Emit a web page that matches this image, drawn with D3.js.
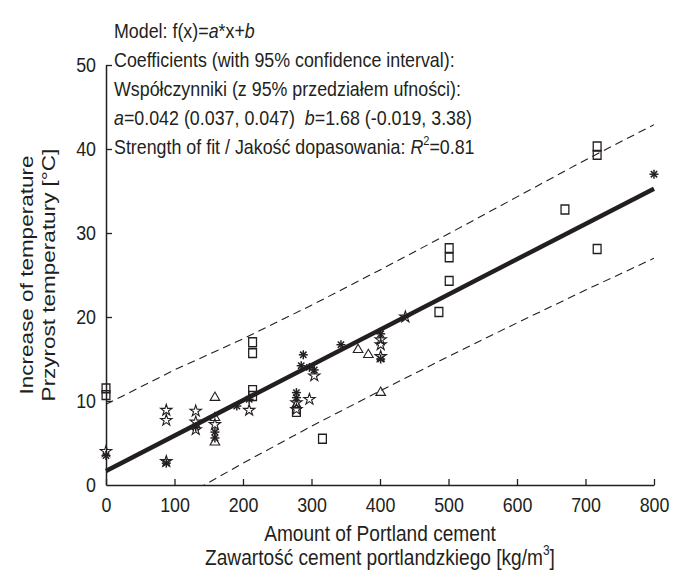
<!DOCTYPE html>
<html><head><meta charset="utf-8">
<script src="https://cdn.jsdelivr.net/npm/d3@7"></script>
<style>body{margin:0;background:#fff}svg{display:block}text{font-family:"Liberation Sans",Arial,Helvetica,sans-serif;fill:#231f20}</style>
</head><body><div id="chart"></div>
<script>
// Data
const squareX = [0, 0, 214, 214, 214, 214, 278, 316, 486, 501, 501, 501, 670, 717, 717, 717];
const squareY = [11.5, 10.7, 17.0, 15.7, 11.3, 10.6, 8.7, 5.5, 20.6, 24.3, 27.1, 28.2, 32.8, 40.3, 39.3, 28.1];
const starX = [0, 88, 88, 88, 131, 131, 131, 159, 209, 278, 278, 297, 304, 401, 401, 401, 437];
const starY = [4.0, 8.9, 7.7, 2.8, 8.8, 7.5, 6.6, 7.2, 8.9, 9.8, 9.0, 10.2, 13.0, 17.3, 16.7, 15.3, 20.0];
const asteriskX = [0, 88, 131, 159, 159, 191, 209, 278, 278, 285, 288, 297, 304, 343, 401, 401, 800];
const asteriskY = [3.5, 2.6, 6.9, 6.3, 5.6, 9.4, 10.2, 11.0, 10.4, 14.2, 15.5, 14.0, 13.7, 16.7, 18.0, 15.0, 37.0];
const triangleX = [159, 159, 159, 278, 368, 383, 401];
const triangleY = [10.4, 8.0, 5.1, 9.5, 16.1, 15.5, 11.0];
const fitX = [0, 800];
const fitY = [1.68, 35.28];
const boundX = [0, 100, 200, 300, 400, 500, 600, 700, 800];
const upperY = [9.6, 13.7, 17.4, 21.4, 25.6, 29.9, 34.3, 38.7, 42.9];
const lowerY = [-6.2, -2.0, 2.6, 7.0, 11.2, 15.3, 19.3, 23.2, 27.0];
const xTicks = [0, 100, 200, 300, 400, 500, 600, 700, 800];
const yTicks = [0, 10, 20, 30, 40, 50];

const W = 673, H = 574;
const L = 106, R = 654, T = 65, B = 485;
const SX = 0.85; // the figure's text is horizontally condensed
const svg = d3.select("#chart").append("svg").attr("width", W).attr("height", H);
const x = d3.scaleLinear().domain([0, 800]).range([L, R]);
const y = d3.scaleLinear().domain([0, 50]).range([B, T]);

svg.append("defs").append("clipPath").attr("id", "clip")
  .append("rect").attr("x", L).attr("y", T).attr("width", R - L).attr("height", B - T);

// axes with inward ticks
const xAxis = svg.append("g").attr("transform", `translate(0,${B})`)
  .call(d3.axisBottom(x).tickValues(xTicks).tickSizeInner(-6).tickSizeOuter(0).tickPadding(12));
const yAxis = svg.append("g").attr("transform", `translate(${L},0)`)
  .call(d3.axisLeft(y).tickValues(yTicks).tickSizeInner(-6).tickSizeOuter(0).tickPadding(10));
[xAxis, yAxis].forEach(g => {
  g.select(".domain").attr("stroke", "#231f20").attr("stroke-width", 1.5);
  g.selectAll(".tick line").attr("stroke", "#231f20").attr("stroke-width", 1.3);
  g.selectAll(".tick text").attr("font-size", 21).attr("fill", "#231f20")
    .style("font-family", '"Liberation Sans",Arial,sans-serif');
});
yAxis.selectAll(".tick text").attr("x", -10 / SX).attr("transform", `scale(${SX},1)`);
xAxis.selectAll(".tick text").attr("transform", `scale(${SX},1)`);
yAxis.selectAll(".tick").filter(d => d === 0).select("line").remove();

const plot = svg.append("g").attr("clip-path", "url(#clip)");
const line = d3.line().x(d => x(d[0])).y(d => y(d[1]));
plot.append("path").datum(boundX.map((v, i) => [v, upperY[i]])).attr("d", line)
  .attr("fill", "none").attr("stroke", "#231f20").attr("stroke-width", 1.1).attr("stroke-dasharray", "8,5");
plot.append("path").datum(boundX.map((v, i) => [v, lowerY[i]])).attr("d", line)
  .attr("fill", "none").attr("stroke", "#231f20").attr("stroke-width", 1.1).attr("stroke-dasharray", "8,5");

const pts = svg.append("g");
const sq = d3.symbol().type(d3.symbolSquare).size(72);
const st = d3.symbol().type(d3.symbolStar).size(40);
const tr = d3.symbol().type(d3.symbolTriangle).size(40);
pts.selectAll(".sq").data(squareX.map((v, i) => [v, squareY[i]])).join("path")
  .attr("d", sq).attr("transform", d => `translate(${x(d[0])},${y(d[1])}) scale(0.92,1.05)`)
  .attr("fill", "none").attr("stroke", "#231f20").attr("stroke-width", 1.4);
pts.selectAll(".st").data(starX.map((v, i) => [v, starY[i]])).join("path")
  .attr("d", st).attr("transform", d => `translate(${x(d[0])},${y(d[1])})`)
  .attr("fill", "none").attr("stroke", "#231f20").attr("stroke-width", 1.1);
pts.selectAll(".tr").data(triangleX.map((v, i) => [v, triangleY[i]])).join("path")
  .attr("d", tr).attr("transform", d => `translate(${x(d[0])},${y(d[1])})`)
  .attr("fill", "none").attr("stroke", "#231f20").attr("stroke-width", 1.1);
const ast = pts.selectAll(".as").data(asteriskX.map((v, i) => [v, asteriskY[i]])).join("g")
  .attr("transform", d => `translate(${x(d[0])},${y(d[1])})`);
[0, 45, 90, 135].forEach(a => {
  ast.append("line").attr("x1", 0).attr("y1", -4.5).attr("x2", 0).attr("y2", 4.5)
    .attr("transform", `rotate(${a})`).attr("stroke", "#231f20").attr("stroke-width", 1.5);
});

svg.append("path").datum(fitX.map((v, i) => [v, fitY[i]])).attr("d", line)
  .attr("fill", "none").attr("stroke", "#231f20").attr("stroke-width", 4.5);

// annotation text
const tx = 114, ts = 21;
const lines = [
  [["Model: f(x)=", 0], ["a", 1], ["*x+", 0], ["b", 1]],
  [["Coefficients (with 95% confidence interval):", 0]],
  [["Współczynniki (z 95% przedziałem ufności):", 0]],
  [["a", 1], ["=0.042 (0.037, 0.047)  ", 0], ["b", 1], ["=1.68 (-0.019, 3.38)", 0]],
  [["Strength of fit / Jakość dopasowania: ", 0], ["R", 1], ["2", 2], ["=0.81", 0]]
];
const baseY = [37.5, 66.5, 95.5, 124.5, 154];
lines.forEach((parts, i) => {
  const t = svg.append("g").attr("transform", `translate(${tx},${baseY[i]}) scale(${SX},1)`)
    .append("text").attr("x", 0).attr("y", 0).attr("font-size", ts).attr("xml:space", "preserve");
  parts.forEach((p, j) => {
    const s = t.append("tspan").text(p[0]);
    if (p[1] === 1) s.attr("font-style", "italic");
    if (p[1] === 2) s.attr("font-size", 13).attr("dy", -9);
    if (p[1] === 0 && j > 0 && parts[j - 1][1] === 2) s.attr("dy", 9);
  });
});

// axis titles
const tf = 22.5;
svg.append("g").attr("transform", `translate(${(L + R) / 2},541) scale(${SX},1)`)
  .append("text").attr("text-anchor", "middle").attr("font-size", tf)
  .text("Amount of Portland cement");
const t2 = svg.append("g").attr("transform", `translate(${(L + R) / 2},565) scale(${SX},1)`)
  .append("text").attr("text-anchor", "middle").attr("font-size", tf);
t2.append("tspan").text("Zawartość cement portlandzkiego [kg/m");
t2.append("tspan").text("3").attr("font-size", 14).attr("dy", -10);
t2.append("tspan").text("]").attr("dy", 10);
svg.append("g").attr("transform", `translate(33,${(T + B) / 2}) scale(${SX},1) rotate(-90)`)
  .append("text").attr("text-anchor", "middle").attr("font-size", tf)
  .text("Increase of temperature");
svg.append("g").attr("transform", `translate(55,${(T + B) / 2}) scale(${SX},1) rotate(-90)`)
  .append("text").attr("text-anchor", "middle").attr("font-size", tf)
  .text("Przyrost temperatury [°C]");
</script></body></html>
